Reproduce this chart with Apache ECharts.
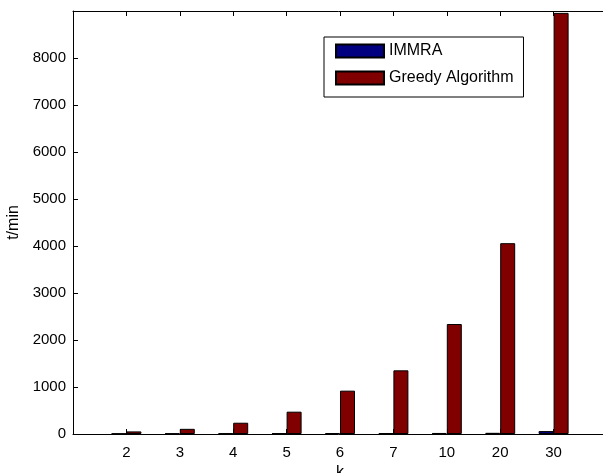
<!DOCTYPE html>
<html>
<head>
<meta charset="utf-8">
<script src="https://cdn.jsdelivr.net/npm/echarts@6/dist/echarts.min.js"></script>
<style>
  html, body { margin: 0; padding: 0; background: #fff; }
  #chart { width: 603px; height: 473px; }
</style>
</head>
<body>
<div id="chart"></div>
<script>
// k values, drawn at positions 1..9 on the x axis
var categories = ['2', '3', '4', '5', '6', '7', '10', '20', '30'];
var immra = [10, 12, 14, 16, 18, 20, 22, 25, 62];
var greedy = [55, 110, 240, 475, 922, 1355, 2340, 4060, 8960];
var yTicks = [0, 1000, 2000, 3000, 4000, 5000, 6000, 7000, 8000, 9000];

function toPoints(values) {
    return values.map(function (v, i) { return [i + 1, v]; });
}

var chart = echarts.init(document.getElementById('chart'));
var font = 'Liberation Sans, Arial, sans-serif';

var option = {
    animation: false,
    grid: { left: 73, top: 11, bottom: 39, right: -4, outerBoundsMode: 'none', containLabel: false },
    legend: {
        orient: 'vertical',
        left: 324,
        top: 37,
        padding: [6, 10, 11, 11],
        itemGap: 11,
        itemWidth: 48,
        itemHeight: 13,
        borderColor: '#000',
        borderWidth: 1,
        backgroundColor: '#fff',
        icon: 'rect',
        textStyle: { fontFamily: font, fontSize: 16, lineHeight: 13, color: '#000' },
        data: ['IMMRA', 'Greedy Algorithm']
    },
    xAxis: [{
        type: 'value',
        min: 0,
        max: 10,
        interval: 1,
        name: 'k',
        nameLocation: 'middle',
        nameGap: 27,
        nameTextStyle: { fontFamily: font, fontSize: 16, color: '#000' },
        splitLine: { show: false },
        axisLine: { lineStyle: { color: '#000' } },
        axisTick: { inside: true, length: 5, lineStyle: { color: '#000' } },
        axisLabel: {
            fontFamily: font, fontSize: 15, color: '#000', margin: 11,
            formatter: function (v) { return categories[v - 1] || ''; }
        }
    }, {
        type: 'value',
        position: 'top',
        min: 0,
        max: 10,
        interval: 1,
        splitLine: { show: false },
        axisLine: { show: true, lineStyle: { color: '#000' } },
        axisTick: { inside: true, length: 5, lineStyle: { color: '#000' } },
        axisLabel: { show: false }
    }],
    yAxis: {
        type: 'value',
        min: yTicks[0],
        max: yTicks[yTicks.length - 1],
        interval: 1000,
        name: 't/min',
        nameLocation: 'middle',
        nameGap: 50,
        nameTextStyle: { fontFamily: font, fontSize: 16, color: '#000' },
        splitLine: { show: false },
        axisLine: { show: true, lineStyle: { color: '#000' } },
        axisTick: { inside: true, length: 5, lineStyle: { color: '#000' } },
        axisLabel: {
            fontFamily: font, fontSize: 15, color: '#000', margin: 7,
            showMaxLabel: false,
            formatter: function (v) { return String(v); }
        }
    },
    series: [{
        name: 'IMMRA',
        type: 'bar',
        barWidth: 15,
        barGap: '0%',
        itemStyle: { color: '#000080', borderColor: '#000', borderWidth: 1 },
        data: toPoints(immra)
    }, {
        name: 'Greedy Algorithm',
        type: 'bar',
        barWidth: 15,
        barGap: '0%',
        itemStyle: { color: '#800000', borderColor: '#000', borderWidth: 1 },
        data: toPoints(greedy)
    }]
};

chart.setOption(option);
</script>
</body>
</html>
